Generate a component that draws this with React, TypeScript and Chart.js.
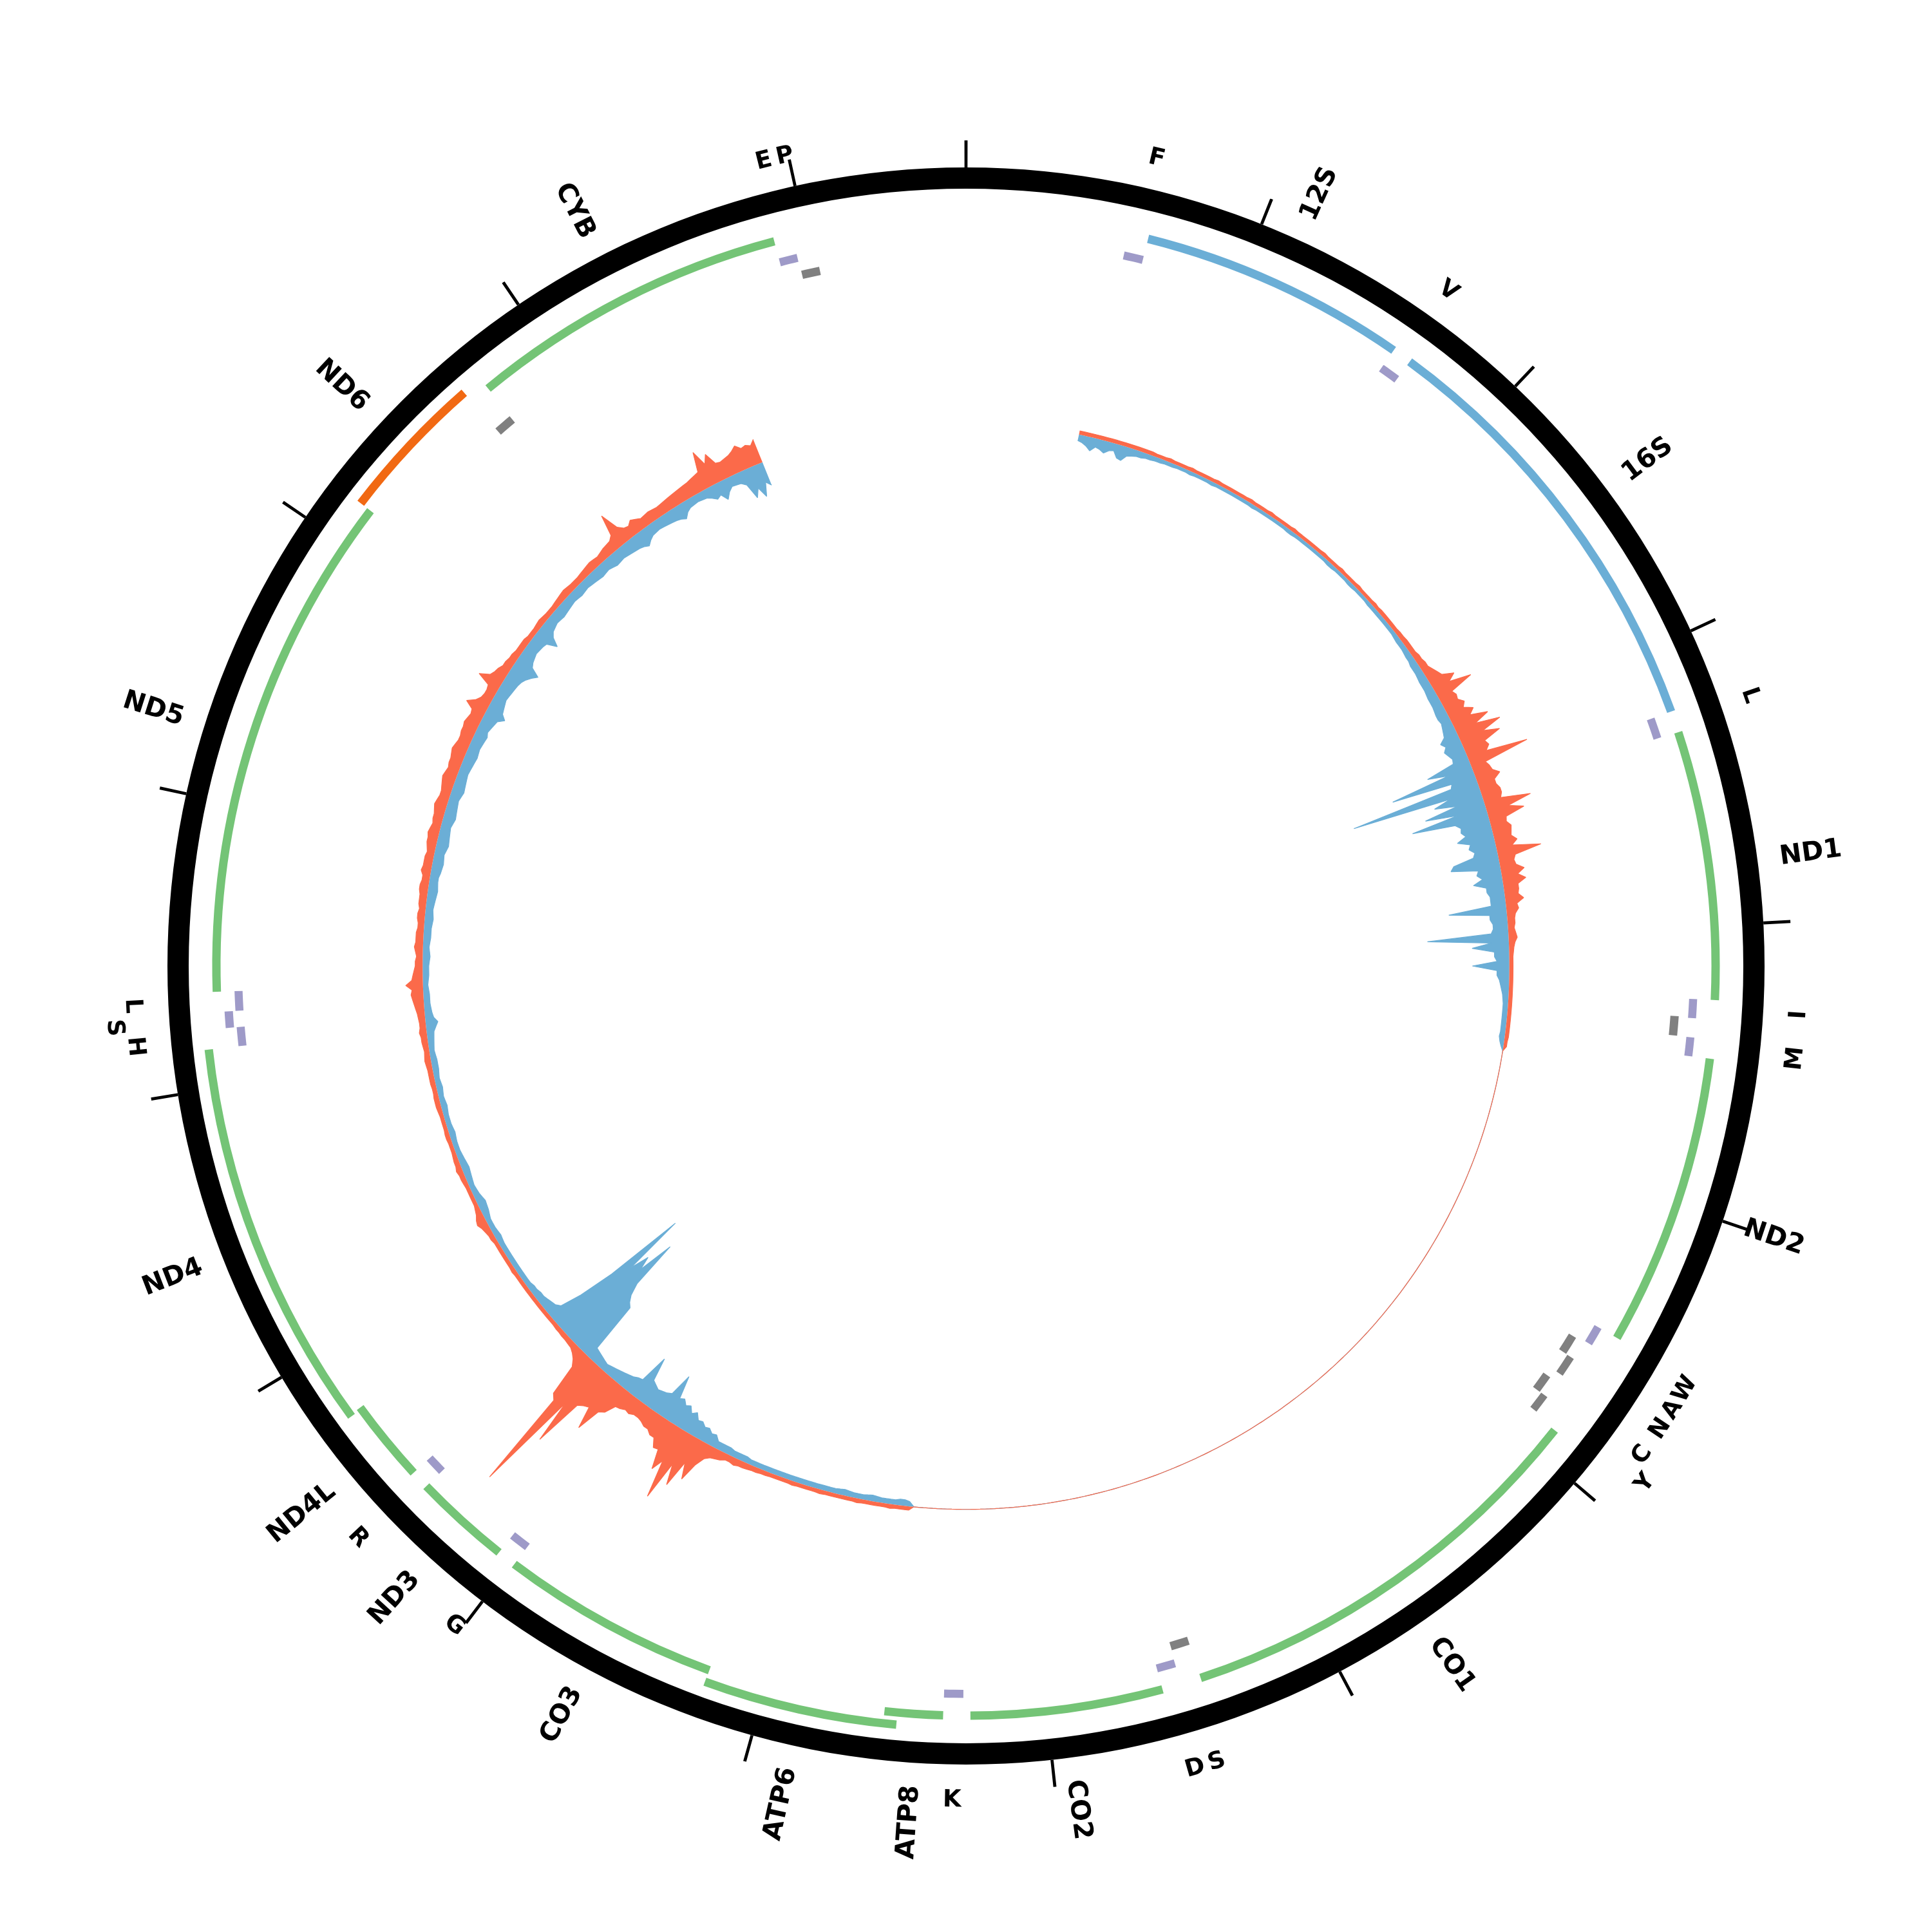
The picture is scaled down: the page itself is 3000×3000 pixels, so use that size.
import React, { useEffect, useRef } from 'react';
import { Chart, registerables } from 'chart.js';

Chart.register(...registerables);

// ---------------- DATA ----------------
const GENOME_LENGTH = 16569;
const TICK_POSITIONS = [0, 1000, 2000, 3000, 4000, 5000, 6000, 7000, 8000, 9000, 10000, 11000, 12000, 13000, 14000, 15000, 16000];

const GENE_NAMES = ['12S', '16S', 'ND1', 'ND2', 'CO1', 'CO2', 'ATP8', 'ATP6', 'CO3', 'ND3', 'ND4L', 'ND4', 'ND5', 'ND6', 'CYB'];
const GENE_START = [648, 1671, 3307, 4470, 5904, 7586, 8366, 8527, 9207, 10059, 10470, 10760, 12337, 14149, 14747];
const GENE_END = [1601, 3229, 4262, 5511, 7445, 8269, 8572, 9207, 9990, 10404, 10766, 12137, 14148, 14673, 15887];
const GENE_KIND = ['rRNA', 'rRNA', 'CDS', 'CDS', 'CDS', 'CDS', 'CDS', 'CDS', 'CDS', 'CDS', 'CDS', 'CDS', 'CDS', 'CDS', 'CDS'];
const GENE_STRAND = [1, 1, 1, 1, 1, 1, 1, 1, 1, 1, 1, 1, 1, -1, 1];
const GENE_LEVEL = [0, 0, 0, 0, 0, 0, 0, 1, 0, 0, 0, 1, 0, 1, 0];

const TRNA_LABELS = ['F', 'V', 'L', 'I', '', 'M', 'W', 'A', 'N', 'C', 'Y', 'S', 'D', 'K', 'G', 'R', 'H', 'S', 'L', '', 'E', 'P'];
const TRNA_START = [577, 1602, 3230, 4263, 4329, 4402, 5512, 5587, 5657, 5761, 5826, 7446, 7518, 8295, 9991, 10405, 12138, 12207, 12266, 14674, 15888, 15956];
const TRNA_END = [647, 1670, 3304, 4331, 4400, 4469, 5579, 5655, 5729, 5826, 5891, 7514, 7585, 8364, 10058, 10469, 12206, 12265, 12336, 14742, 15953, 16023];
const TRNA_STRAND = [1, 1, 1, 1, -1, 1, 1, -1, -1, -1, -1, -1, 1, 1, 1, 1, 1, 1, 1, -1, 1, -1];
const TRNA_LEVEL = [0, 0, 0, 0, 0, 0, 0, 0, 1, 0, 1, 0, 0, 0, 0, 0, 0, 1, 0, 0, 0, 0];
const TRNA_LABEL_SHIFT = [0, 0, 0, 0, 0, 0, 0, 0, 0, 0, 1, 0, 0, 0, 0, 0, 0, 1, 0, 0, 0, 0];

// coverage per half-degree bin (forward strand outward, reverse strand inward)
const COV_FWD: (number | null)[] = [
  null, null, null, null, null, null, null, null, null, null, null, null, null, null, null, null, null, null, null, null,
  null, null, null, null, 3, 3, 3, 3, 3, 3, 3, 3, 3, 3, 3, 3, 3, 3, 3, 3,
  3, 2.5, 2.5, 2.5, 3, 2.5, 2.5, 2.5, 2.5, 3, 2.5, 2.5, 2.5, 2.5, 2.5, 3, 2.5, 2.5, 2.5, 2.5,
  2.5, 2.5, 2.5, 3, 2.5, 2.5, 2.5, 2.5, 3, 2.5, 2.5, 2.5, 2.5, 2.5, 3, 2.5, 2.5, 2.5, 2.5, 2.5,
  2.5, 2.5, 3, 2.5, 2.5, 2.5, 2.5, 3, 2.5, 2.5, 2.5, 2.5, 3, 2.5, 2.5, 2.5, 2.5, 3, 2.5, 3,
  3, 3, 3, 3, 3, 3.5, 3.5, 4, 4, 4, 4, 5, 5, 6, 6, 8, 10, 12, 21, 14,
  32, 12, 14, 13, 17, 14, 21, 16, 30, 17, 37, 20, 33, 18, 20, 16, 50, 12, 14, 15,
  20, 14, 14, 16, 16, 14, 38, 18, 30, 14, 13, 16, 15, 14, 18, 13, 36, 14, 12, 13,
  19, 13, 19, 12, 12, 11, 15, 9, 10, 7, 6, 6, 5, 6, 7, 5, 4, 3.5, 3, 3,
  3, 3, 3, 3, 3, 3, 3, 3, 3, 3, 3, 3, 3, 3, 3, 3, 2.5, 2.5, 0, 0,
  0, 0, 0, 0, 0, 0, 0, 0, 0, 0, 0, 0, 0, 0, 0, 0, 0, 0, 0, 0,
  0, 0, 0, 0, 0, 0, 0, 0, 0, 0, 0, 0, 0, 0, 0, 0, 0, 0, 0, 0,
  0, 0, 0, 0, 0, 0, 0, 0, 0, 0, 0, 0, 0, 0, 0, 0, 0, 0, 0, 0,
  0, 0, 0, 0, 0, 0, 0, 0, 0, 0, 0, 0, 0, 0, 0, 0, 0, 0, 0, 0,
  0, 0, 0, 0, 0, 0, 0, 0, 0, 0, 0, 0, 0, 0, 0, 0, 0, 0, 0, 0,
  0, 0, 0, 0, 0, 0, 0, 0, 0, 0, 0, 0, 0, 0, 0, 0, 0, 0, 0, 0,
  0, 0, 0, 0, 0, 0, 0, 0, 0, 0, 0, 0, 0, 0, 0, 0, 0, 0, 0, 0,
  0, 0, 0, 0, 0, 0, 0, 0, 0, 0, 0, 0, 0, 0, 0, 0, 0, 0, 0, 0,
  0, 0, 0, 0, 0, 0, 0, 0, 0, 0, 0, 0, 3, 3, 3, 3, 3.5, 3, 3, 3,
  3, 3, 3, 3.5, 3, 3, 3, 3, 3, 3, 3, 3.5, 3, 3, 3, 3, 3, 3.5, 3, 3,
  3, 3, 3, 3.5, 3.5, 4, 4, 4.5, 5, 5, 6, 5, 5, 7, 8, 9, 12, 20, 35, 22,
  45, 28, 61, 30, 40, 24, 25, 18, 18, 15, 15, 13, 12, 12, 14, 13, 15, 16, 25, 28,
  48, 30, 32, 35, 76, 40, 126, 45, 41, 15, 10, 7, 5, 4.5, 4, 4, 3.5, 3.5, 3, 3,
  3, 3, 3, 3, 3, 3, 3, 3, 3, 3, 3, 3, 3.5, 3, 3, 3, 3, 3, 3, 3,
  4, 4, 5, 6, 8, 7, 5, 4, 3, 3, 3, 3, 3, 3.5, 4, 4, 5, 4, 4, 3.5,
  3, 3, 3, 3.5, 3.5, 3, 3, 3, 3, 3.5, 4, 4, 4, 3.5, 3.5, 4, 4, 4, 4, 4.5,
  5, 4.5, 4, 4.5, 5, 5, 6, 5, 5, 5.5, 6, 7, 8, 9, 10, 9, 14, 9, 8, 7,
  6, 6, 5, 6, 7, 6, 6, 6, 5, 5, 6, 6, 5, 6, 6, 6, 7, 7, 6, 6,
  8, 7, 7, 7, 6, 7, 8, 8, 9, 8, 7, 8, 8, 9, 10, 9, 8, 8, 9, 10,
  11, 10, 9, 10, 10, 11, 12, 11, 10, 10, 11, 11, 12, 11, 10, 11, 18, 12, 9, 8,
  8, 9, 20, 12, 10, 9, 7, 7, 6, 6, 5, 5, 5, 5, 4, 4, 4, 4.5, 5, 4.5,
  4, 4, 4, 4.5, 5, 5.5, 6, 5.5, 5, 5, 5, 5.5, 6, 6.5, 7, 6.5, 6, 7, 8, 8.5,
  9, 12, 29, 14, 10, 9, 12, 10, 8, 8.5, 9, 8.5, 8, 8.5, 9, 9.5, 10, 10.5, 11, 11.5,
  12, 13, 14, 15, 31, 18, 25, 15, 14, 15, 16, 18, 21, 17, 18, 16, 20, null, null, null,
  null, null, null, null, null, null, null, null, null, null, null, null, null, null, null, null, null, null, null, null,
  null, null, null, null, null, null, null, null, null, null, null, null, null, null, null, null, null, null, null, null,
];

const COV_REV: (number | null)[] = [
  null, null, null, null, null, null, null, null, null, null, null, null, null, null, null, null, null, null, null, null,
  null, null, null, null, 5, 6, 8, 11, 7, 8, 10, 7, 6, 11, 12, 7, 6, 5, 5, 4,
  4, 3.5, 3.5, 3, 3, 3, 2.5, 2.5, 2.5, 3, 2.5, 2.5, 2.5, 2.5, 3, 2.5, 2.5, 2.5, 2.5, 2.5,
  2.5, 2.5, 2.5, 2.5, 3, 2.5, 2.5, 2.5, 2.5, 2.5, 2.5, 2.5, 2.5, 3, 3, 2.5, 2.5, 2.5, 2.5, 2.5,
  2.5, 2.5, 2.5, 2.5, 3, 3, 2.5, 2.5, 2.5, 2.5, 3, 3, 2.5, 2.5, 2.5, 2.5, 3, 3, 3, 3,
  3, 3, 3, 3, 3, 3.5, 4, 4, 4, 4.5, 5, 5, 6, 6, 6, 6.5, 7, 7, 7, 7.5,
  8, 8, 8, 8.5, 9, 9, 8, 9, 10, 11, 16, 13, 16, 14, 12, 13, 37, 20, 70, 20,
  22, 107, 25, 40, 22, 50, 24, 63, 28, 24, 25, 22, 30, 20, 22, 18, 20, 37, 40, 18,
  20, 16, 24, 14, 14, 12, 12, 12, 47, 14, 14, 12, 12, 14, 66, 14, 30, 12, 12, 10,
  30, 10, 10, 8, 7, 6, 5, 4.5, 4, 4, 4, 4, 4, 4, 4, 4.5, 3.5, 2, 0, 0,
  0, 0, 0, 0, 0, 0, 0, 0, 0, 0, 0, 0, 0, 0, 0, 0, 0, 0, 0, 0,
  0, 0, 0, 0, 0, 0, 0, 0, 0, 0, 0, 0, 0, 0, 0, 0, 0, 0, 0, 0,
  0, 0, 0, 0, 0, 0, 0, 0, 0, 0, 0, 0, 0, 0, 0, 0, 0, 0, 0, 0,
  0, 0, 0, 0, 0, 0, 0, 0, 0, 0, 0, 0, 0, 0, 0, 0, 0, 0, 0, 0,
  0, 0, 0, 0, 0, 0, 0, 0, 0, 0, 0, 0, 0, 0, 0, 0, 0, 0, 0, 0,
  0, 0, 0, 0, 0, 0, 0, 0, 0, 0, 0, 0, 0, 0, 0, 0, 0, 0, 0, 0,
  0, 0, 0, 0, 0, 0, 0, 0, 0, 0, 0, 0, 0, 0, 0, 0, 0, 0, 0, 0,
  0, 0, 0, 0, 0, 0, 0, 0, 0, 0, 0, 0, 0, 0, 0, 0, 0, 0, 0, 0,
  0, 0, 0, 0, 0, 0, 0, 0, 0, 0, 0, 0, 4, 5, 5, 4, 4, 4, 4, 4.5,
  5, 4.5, 4, 4, 4, 4.5, 5, 4.5, 4, 4, 4, 4, 4, 4, 4, 4, 4, 4, 4, 4,
  4, 4, 4, 4, 4, 4, 4, 4, 5, 5, 5, 5, 6, 6, 6, 6, 10, 9, 12, 11,
  14, 13, 18, 15, 20, 18, 22, 20, 39, 20, 18, 17, 16, 18, 20, 39, 15, 14, 12, 11,
  10, 9, 8, 7, 6, 7, 8, 9, 10, 52, 55, 60, 70, 110, 80, 91, 75, 126, 60, 30,
  12, 9, 8, 7, 6, 6, 5, 5, 4, 4, 4, 4, 4, 4, 4, 4, 4, 4, 4, 4.5,
  5, 4.5, 4, 4, 4, 5, 6, 6.5, 7, 6, 5, 4.5, 4, 4.5, 5, 5.5, 6, 5.5, 5, 4.5,
  4, 4, 4, 4.5, 5, 4.5, 4, 4, 4, 4.5, 5, 4.5, 4, 4.5, 5, 4.5, 4, 4.5, 5, 5,
  5, 4.5, 4, 4.5, 5, 5.5, 6, 8, 10, 7, 6, 5.5, 5, 5, 5, 4.5, 4, 4.5, 5, 5,
  5, 5.5, 6, 5.5, 5, 5.5, 6, 6, 6, 6.5, 7, 6.5, 6, 6.5, 7, 7.5, 8, 7.5, 7, 7,
  8, 8.5, 9, 8.5, 8, 9, 10, 9.5, 9, 8.5, 8, 9, 10, 9.5, 9, 8.5, 8, 9, 10, 9.5,
  9, 8.5, 8, 8.5, 9, 9.5, 10, 9.5, 9, 9.5, 10, 10.5, 9, 10, 11, 12, 17, 13, 12, 11,
  10, 10.5, 11, 11.5, 12, 13, 15, 18, 22, 14, 12, 11, 10, 10.5, 11, 12, 20, 13, 10, 9,
  8, 8.5, 9, 8.5, 8, 7.5, 7, 7.5, 8, 7.5, 7, 7.5, 8, 8.5, 9, 8.5, 8, 9, 10, 9.5,
  9, 9.5, 10, 10.5, 11, 12, 14, 11, 9, 8.5, 8, 8.5, 9, 9.5, 10, 11, 13, 9, 7, 6.5,
  6, 6.5, 7, 9, 12, 10, 16, 11, 8, 8.5, 9, 12, 25, 18, 27, 16, 20, null, null, null,
  null, null, null, null, null, null, null, null, null, null, null, null, null, null, null, null, null, null, null, null,
  null, null, null, null, null, null, null, null, null, null, null, null, null, null, null, null, null, null, null, null,
];

const BIN_LABELS = COV_FWD.map((_, i) => String(Math.round((i * GENOME_LENGTH) / COV_FWD.length)));

// ---------------- STYLE ----------------
const SIZE = 3000;
const C_GREEN = '#74c476';
const C_RRNA = '#6baed6';
const C_ORANGE = '#f16913';
const C_PURPLE = '#9e9ac8';
const C_GREY = '#808080';
const C_FWD = '#fb6a4a';
const C_REV = '#6baed6';
const TRANSPARENT = 'rgba(0,0,0,0)';

const OUTER_R = 1282;
const INNER_R = 1096.5;
const GENE_LABEL_R = 1275;
const TRNA_LABEL_R = 1292;
const TRNA_LABEL_STEP = 30;

type Item = { s: number; e: number; color: string; key?: string };

function buildRing(items: Item[]) {
  const sorted = [...items].sort((a, b) => a.s - b.s);
  const data: number[] = [];
  const colors: string[] = [];
  const index: Record<string, number> = {};
  let pos = 0;
  for (const it of sorted) {
    if (it.s > pos) {
      data.push(it.s - pos);
      colors.push(TRANSPARENT);
    }
    if (it.key) index[it.key] = data.length;
    data.push(it.e - it.s);
    colors.push(it.color);
    pos = it.e;
  }
  if (pos < GENOME_LENGTH) {
    data.push(GENOME_LENGTH - pos);
    colors.push(TRANSPARENT);
  }
  return { data, colors, index };
}

function geneColor(i: number) {
  if (GENE_KIND[i] === 'rRNA') return C_RRNA;
  return GENE_STRAND[i] < 0 ? C_ORANGE : C_GREEN;
}

export default function App() {
  const ringRef = useRef<HTMLCanvasElement>(null);
  const covRef = useRef<HTMLCanvasElement>(null);

  useEffect(() => {
    const tickItems: Item[] = [];
    TICK_POSITIONS.forEach((p) => {
      const s = p - 5;
      const e = p + 5;
      if (s < 0) {
        tickItems.push({ s: 0, e, color: '#000' });
        tickItems.push({ s: GENOME_LENGTH + s, e: GENOME_LENGTH, color: '#000' });
      } else tickItems.push({ s, e, color: '#000' });
    });
    const tickRing = buildRing(tickItems);

    const geneRings = [0, 1].map((lvl) =>
      buildRing(
        GENE_NAMES.map((n, i) => ({ s: GENE_START[i] - 1, e: GENE_END[i], color: geneColor(i), key: 'g' + i, lvl: GENE_LEVEL[i] }))
          .filter((it: any) => it.lvl === lvl)
      )
    );
    const trnaRing = (strand: number, lvl: number) =>
      buildRing(
        TRNA_LABELS.map((n, i) => ({ s: TRNA_START[i] - 1, e: TRNA_END[i], color: strand > 0 ? C_PURPLE : C_GREY, key: 't' + i, st: TRNA_STRAND[i], lvl: TRNA_LEVEL[i] }))
          .filter((it: any) => it.st === strand && it.lvl === lvl)
      );
    const purple0 = trnaRing(1, 0);
    const purple1 = trnaRing(1, 1);
    const grey0 = trnaRing(-1, 0);
    const grey1 = trnaRing(-1, 1);

    const spacer = (w: number) => ({ data: [GENOME_LENGTH], backgroundColor: [TRANSPARENT], borderWidth: 0, weight: w });
    const ring = (r: { data: number[]; colors: string[] }, w: number) => ({ data: r.data, backgroundColor: r.colors, borderWidth: 0, weight: w });

    const datasets: any[] = [
      ring(tickRing, 42),
      { data: [GENOME_LENGTH], backgroundColor: ['#000'], borderWidth: 0, weight: 33 },
      spacer(17.5),
      ring(geneRings[1], 13),
      spacer(6),
      ring(geneRings[0], 13),
      spacer(4),
      ring(purple1, 13),
      spacer(4),
      ring(purple0, 12.5),
      ring(grey1, 12),
      spacer(2.5),
      ring(grey0, 13),
    ];

    const labelEntries: { ds: number; seg: number; text: string; gene: boolean; shift: number }[] = [];
    GENE_NAMES.forEach((n, i) => {
      const ds = GENE_LEVEL[i] === 1 ? 3 : 5;
      const r = GENE_LEVEL[i] === 1 ? geneRings[1] : geneRings[0];
      labelEntries.push({ ds, seg: r.index['g' + i], text: n, gene: true, shift: 0 });
    });
    TRNA_LABELS.forEach((n, i) => {
      if (!n) return;
      let ds = 9;
      let r = purple0;
      if (TRNA_STRAND[i] > 0 && TRNA_LEVEL[i] === 1) { ds = 7; r = purple1; }
      if (TRNA_STRAND[i] < 0 && TRNA_LEVEL[i] === 0) { ds = 12; r = grey0; }
      if (TRNA_STRAND[i] < 0 && TRNA_LEVEL[i] === 1) { ds = 10; r = grey1; }
      labelEntries.push({ ds, seg: r.index['t' + i], text: n, gene: false, shift: TRNA_LABEL_SHIFT[i] });
    });

    const labelPlugin = {
      id: 'featureLabels',
      afterDatasetsDraw(chart: any) {
        const ctx = chart.ctx as CanvasRenderingContext2D;
        ctx.save();
        ctx.fillStyle = '#000';
        for (const lab of labelEntries) {
          const arc = chart.getDatasetMeta(lab.ds).data[lab.seg];
          if (!arc) continue;
          const { x, y, startAngle, endAngle } = arc.getProps(['x', 'y', 'startAngle', 'endAngle'], true);
          const a = (startAngle + endAngle) / 2;
          let theta = (a + Math.PI / 2) % (Math.PI * 2);
          if (theta < 0) theta += Math.PI * 2;
          ctx.save();
          if (lab.gene) {
            ctx.font = 'bold 41px "DejaVu Sans"';
            const cap = ctx.measureText('H').actualBoundingBoxAscent;
            ctx.textBaseline = 'alphabetic';
            ctx.translate(x, y);
            if (theta < Math.PI) {
              ctx.rotate(a);
              ctx.textAlign = 'left';
              ctx.fillText(lab.text, GENE_LABEL_R, cap / 2);
            } else {
              ctx.rotate(a + Math.PI);
              ctx.textAlign = 'right';
              ctx.fillText(lab.text, -GENE_LABEL_R, cap / 2);
            }
          } else {
            ctx.font = 'bold 37px "DejaVu Sans"';
            const cap = ctx.measureText('H').actualBoundingBoxAscent;
            ctx.textBaseline = 'alphabetic';
            ctx.textAlign = 'center';
            const rr = TRNA_LABEL_R + lab.shift * TRNA_LABEL_STEP;
            ctx.translate(x + rr * Math.cos(a), y + rr * Math.sin(a));
            const bottom = Math.sin(a) > 1e-6;
            ctx.rotate(bottom ? a - Math.PI / 2 : a + Math.PI / 2);
            ctx.fillText(lab.text, 0, cap / 2);
          }
          ctx.restore();
        }
        ctx.restore();
      },
    };

    const ringChart = new Chart(ringRef.current!, {
      type: 'doughnut',
      data: { labels: [], datasets },
      options: {
        responsive: false,
        maintainAspectRatio: false,
        animation: false,
        events: [],
        radius: OUTER_R,
        cutout: `${(INNER_R / OUTER_R) * 100}%`,
        layout: { padding: 0 },
        plugins: { legend: { display: false }, tooltip: { enabled: false } },
      } as any,
      plugins: [labelPlugin],
    });

    const lineStyle = {
      borderWidth: 1.2,
      borderJoinStyle: 'bevel',
      pointRadius: 0,
      pointHoverRadius: 0,
      fill: { value: 0 },
      spanGaps: false,
      tension: 0,
    };

    const covChart = new Chart(covRef.current!, {
      type: 'radar',
      data: {
        labels: BIN_LABELS,
        datasets: [
          { label: 'forward', data: COV_FWD, borderColor: C_FWD, backgroundColor: C_FWD, ...lineStyle },
          { label: 'reverse', data: COV_REV.map((v) => (v === null ? null : -v)), borderColor: C_REV, backgroundColor: C_REV, ...lineStyle },
        ] as any,
      },
      options: {
        responsive: false,
        maintainAspectRatio: false,
        animation: false,
        events: [],
        layout: { padding: 0 },
        plugins: { legend: { display: false }, tooltip: { enabled: false } },
        scales: {
          r: {
            min: -441,
            max: 343,
            startAngle: 0,
            grid: { display: false },
            angleLines: { display: false },
            ticks: { display: false },
            pointLabels: { display: false },
          },
        },
      } as any,
    });

    return () => {
      ringChart.destroy();
      covChart.destroy();
    };
  }, []);

  return (
    <div style={{ position: 'absolute', left: 0, top: 0, width: SIZE, height: SIZE, background: '#fff' }}>
      <canvas ref={ringRef} width={SIZE} height={SIZE} style={{ position: 'absolute', left: 0, top: 0, width: SIZE, height: SIZE }} />
      <canvas ref={covRef} width={SIZE} height={SIZE} style={{ position: 'absolute', left: 0, top: 0, width: SIZE, height: SIZE }} />
    </div>
  );
}
